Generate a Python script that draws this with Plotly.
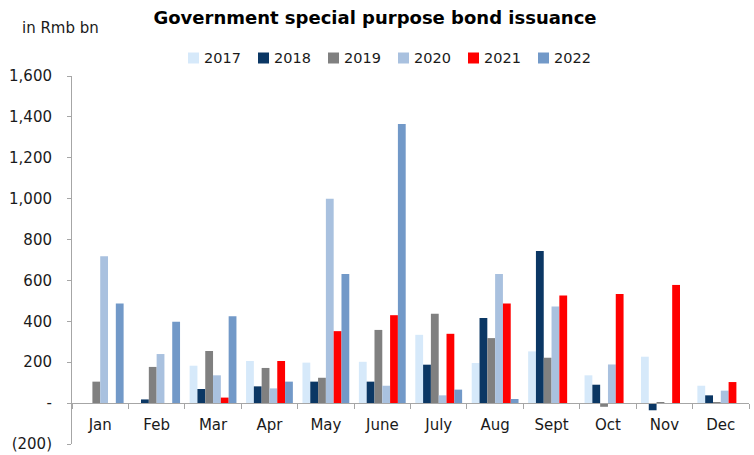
import plotly.graph_objects as go

# Monthly special purpose bond issuance, Rmb bn
months = ["Jan", "Feb", "Mar", "Apr", "May", "June", "July", "Aug", "Sept", "Oct", "Nov", "Dec"]

y2017 = [None, None, 183, 206, 198, 202, 334, 196, 253, 136, 227, 85]
y2018 = [None, 18, 69, 82, 105, 105, 188, 416, 744, 90, -35, 38]
y2019 = [105, 177, 255, 172, 124, 358, 437, 318, 222, -18, 3, 5]
y2020 = [718, 240, 136, 72, 1000, 85, 38, 632, 472, 189, None, 61]
y2021 = [None, None, 27, 206, 352, 430, 339, 487, 526, 534, 578, 103]
y2022 = [487, 398, 425, 105, 632, 1365, 66, 20, None, None, None, None]

series_names = ["2017", "2018", "2019", "2020", "2021", "2022"]
series_values = [y2017, y2018, y2019, y2020, y2021, y2022]
series_colors = ["#D6E9FA", "#0B3764", "#808080", "#A9C1DF", "#FF0000", "#7299C8"]

y_ticks = [-200, 0, 200, 400, 600, 800, 1000, 1200, 1400, 1600]
y_tick_text = ["(200)", "-", "200", "400", "600", "800", "1,000", "1,200", "1,400", "1,600"]

FONT = "DejaVu Sans, sans-serif"
TXT = "#1a1a1a"

# plot area in pixels
W, H = 754, 455
L, R, T, B = 72, 5, 76, 11
PW, PH = W - L - R, H - T - B


def px_x(px):
    return (px - L) / PW


def px_y(py):
    return (H - B - py) / PH


fig = go.Figure()
for name, vals, col in zip(series_names, series_values, series_colors):
    fig.add_trace(go.Bar(
        name=name, x=months, y=vals,
        marker=dict(color=col, line=dict(width=0)),
        showlegend=False,
    ))

y_min, y_max = -200, 1600
zero_frac = (0 - y_min) / (y_max - y_min)

# legend row: square swatch + label per series
shapes, annotations = [], []
sw = 11
for i, (name, col) in enumerate(zip(series_names, series_colors)):
    x0 = 188 + i * 70
    shapes.append(dict(
        type="rect", xref="paper", yref="paper",
        x0=px_x(x0), x1=px_x(x0 + sw), y0=px_y(58 + sw / 2), y1=px_y(58 - sw / 2),
        fillcolor=col, line=dict(width=0),
    ))
    annotations.append(dict(
        text=name, xref="paper", yref="paper",
        x=px_x(x0 + sw + 3), y=px_y(58), xanchor="left", yanchor="middle",
        showarrow=False, font=dict(family=FONT, size=14.5, color=TXT),
    ))

annotations.append(dict(
    text="in Rmb bn", xref="paper", yref="paper",
    x=px_x(60), y=px_y(28), xanchor="center", yanchor="middle",
    showarrow=False, font=dict(family=FONT, size=15, color=TXT),
))

fig.update_layout(
    width=W, height=H,
    margin=dict(l=L, r=R, t=T, b=B, autoexpand=False),
    paper_bgcolor="white", plot_bgcolor="white",
    barmode="group", bargap=0.17, bargroupgap=0,
    font=dict(family=FONT, size=15, color=TXT),
    showlegend=False,
    title=dict(
        text="<b>Government special purpose bond issuance</b>",
        xref="container", yref="container",
        x=375 / W, xanchor="center", y=1 - 18 / H, yanchor="middle",
        font=dict(family=FONT, size=18, color="#000000"),
    ),
    xaxis=dict(
        type="category", anchor="free", position=zero_frac,
        showline=True, linecolor="#A6A6A6", linewidth=1,
        ticks="outside", tickson="boundaries", ticklen=5, tickcolor="#A6A6A6",
        ticklabelstandoff=8,
        showgrid=False, zeroline=False,
        tickfont=dict(family=FONT, size=15, color=TXT),
    ),
    yaxis=dict(
        range=[y_min, y_max], tickvals=y_ticks, ticktext=y_tick_text,
        showline=True, linecolor="#A6A6A6", linewidth=1,
        ticks="outside", ticklen=4, tickcolor="#A6A6A6",
        ticklabelstandoff=12,
        showgrid=False, zeroline=False,
        tickfont=dict(family=FONT, size=15, color=TXT),
    ),
    shapes=shapes,
    annotations=annotations,
)

fig.write_html("out.html")
